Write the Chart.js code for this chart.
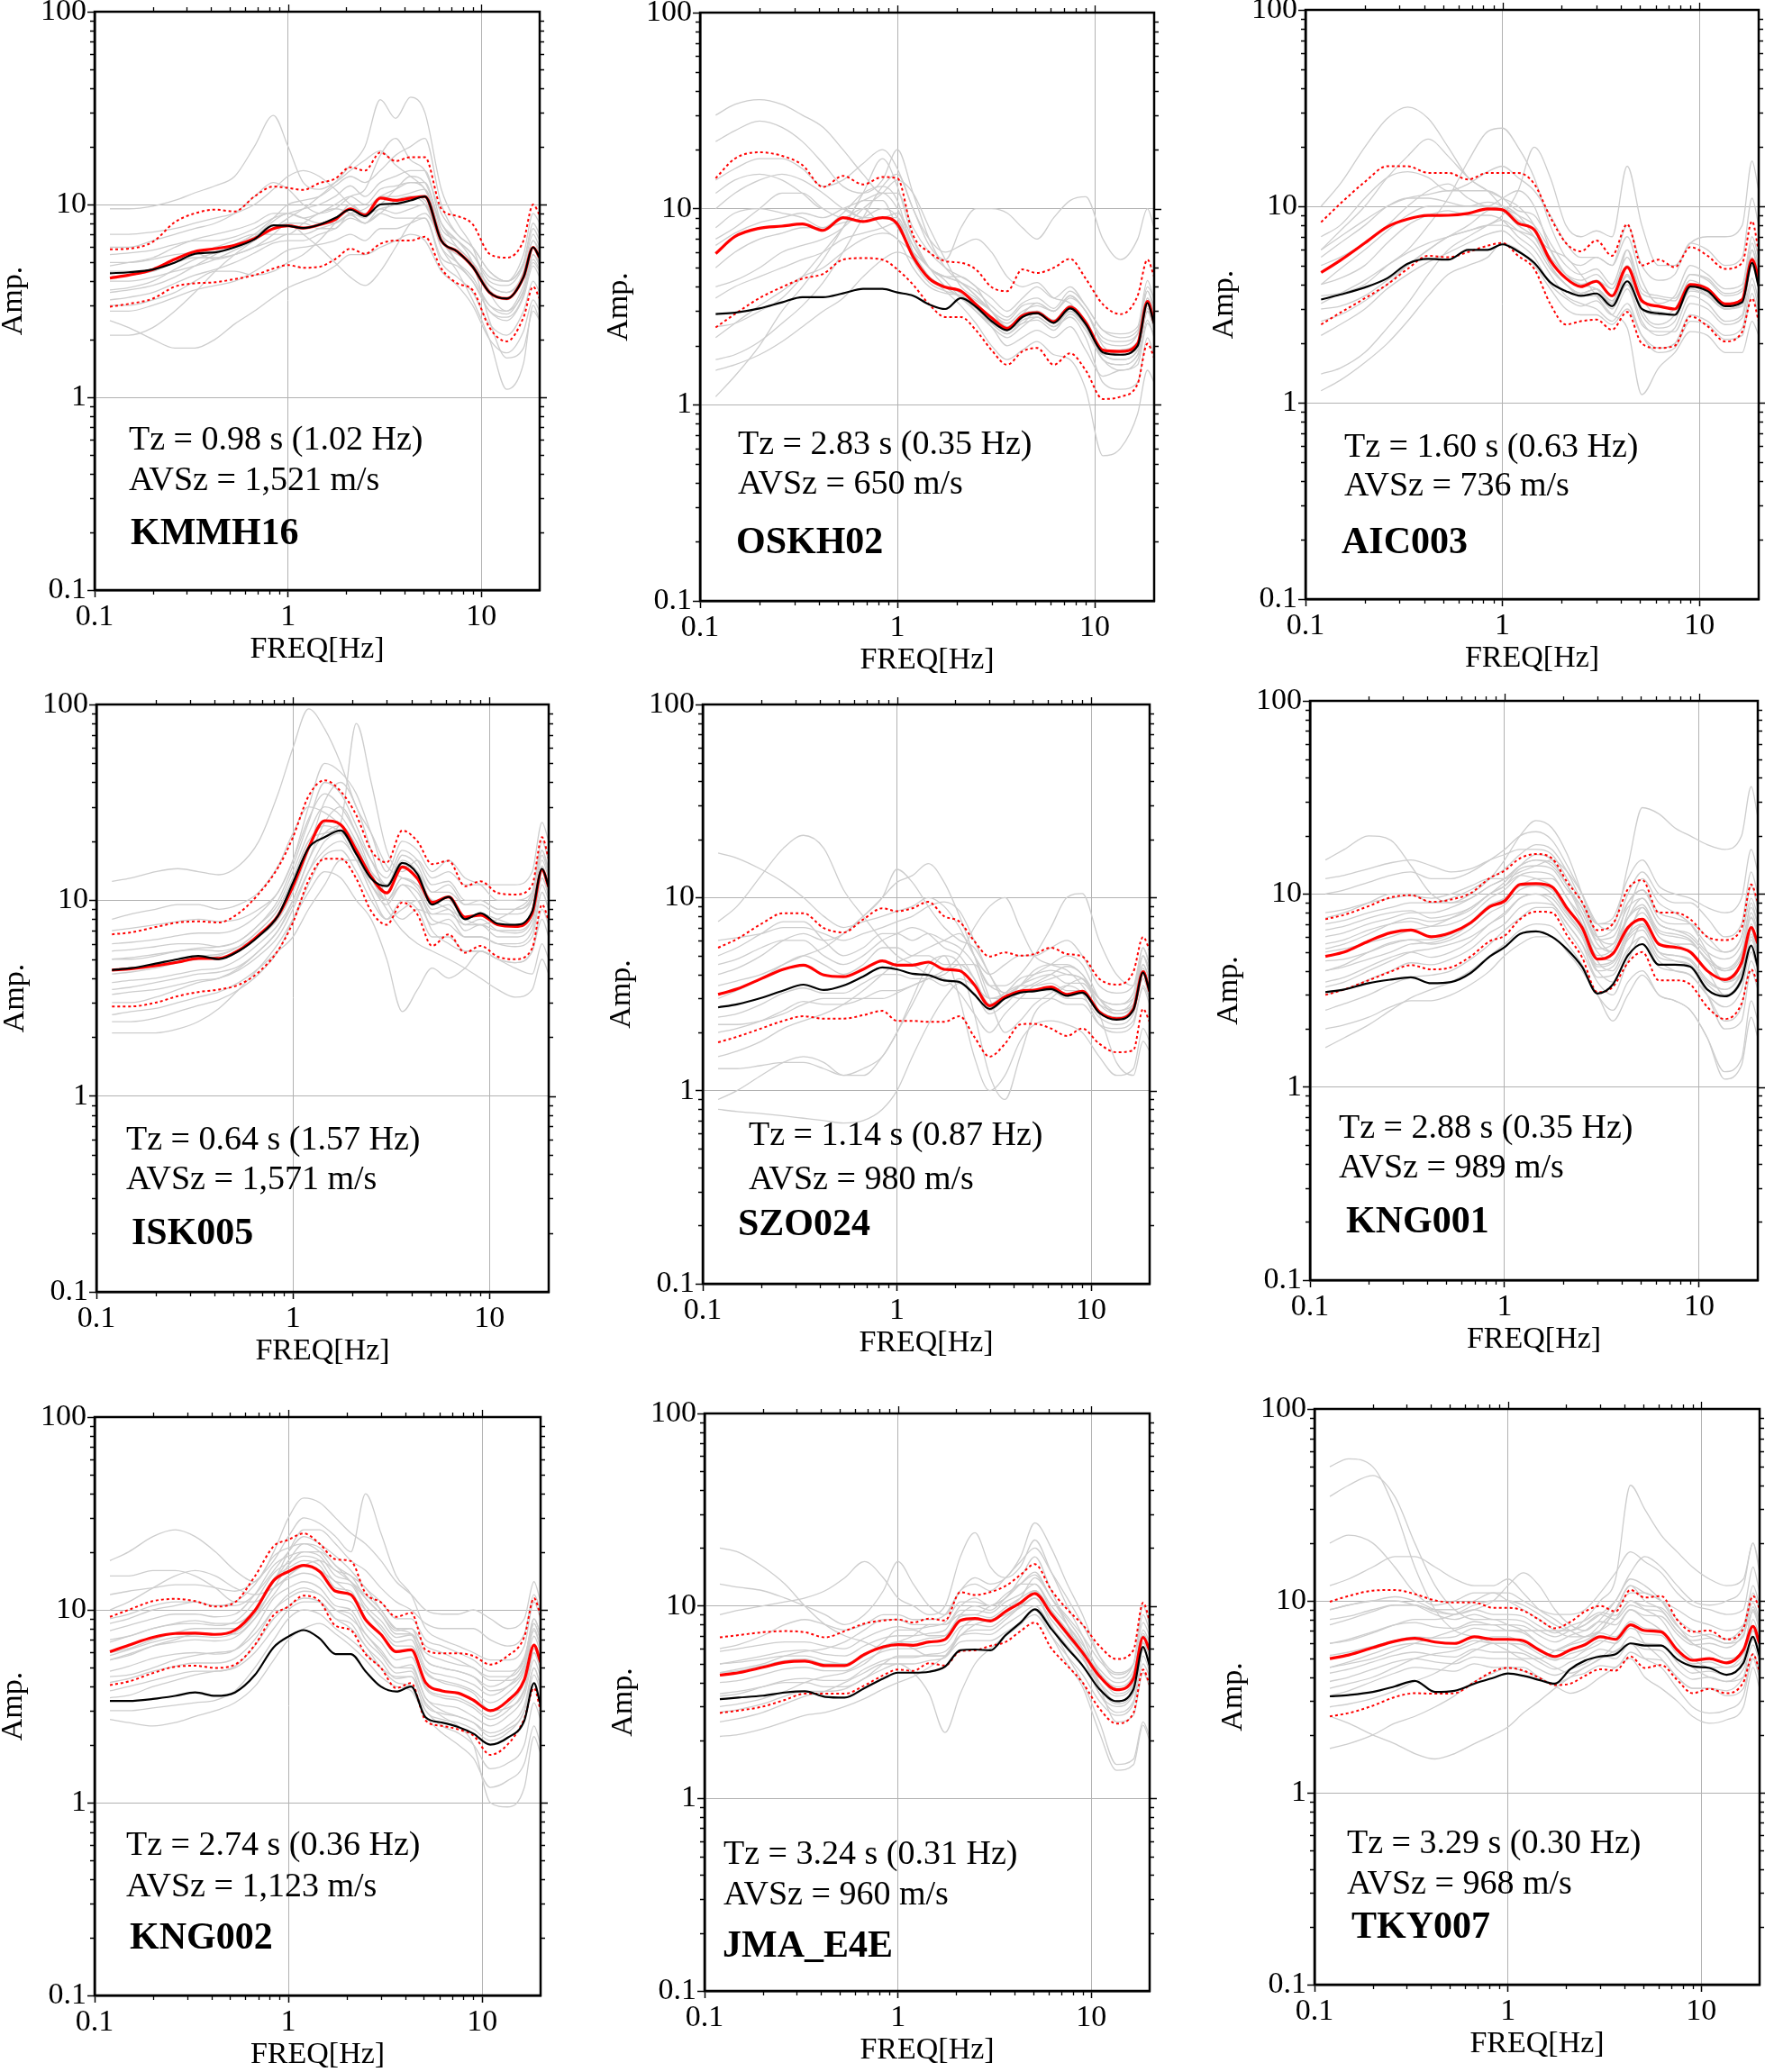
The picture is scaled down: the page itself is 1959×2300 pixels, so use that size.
<!DOCTYPE html>
<html lang="en">
<head>
  <meta charset="UTF-8">
  <title>H/V spectra - 9 stations</title>
  <script src="https://cdn.jsdelivr.net/npm/chart.js@4.4.0/dist/chart.umd.min.js"></script>
  <style>
    html, body { margin: 0; padding: 0; background: #fff; }
    body { width: 1959px; height: 2300px; position: relative; overflow: hidden; }
    canvas.panel { position: absolute; }
  </style>
</head>
<body>
<script>
// shared frequency grid [Hz]
const freq = [0.12, 0.15, 0.2, 0.26, 0.33, 0.42, 0.53, 0.67, 0.84, 1.0, 1.2, 1.45, 1.75, 2.1, 2.5, 3.0, 3.6, 4.3, 5.1, 6.2, 7.5, 9.0, 11, 13.5, 16.5, 18.5, 20];
const xTickValues = [0.1, 1, 10];
const yTickValues = [0.1, 1, 10, 100];

// KMMH16
const kmmh16Mean  = [4.15,4.3,4.6,5.2,5.7,5.9,6.15,6.65,7.5,7.75,7.55,7.85,8.35,9.5,8.8,10.8,10.5,10.8,11.0,6.5,5.7,4.76,3.5,3.25,4.2,6.0,5.3];
const kmmh16Black = [4.4,4.45,4.6,5.0,5.55,5.65,6.0,6.6,7.8,7.75,7.55,7.85,8.5,9.4,8.7,10.0,10.1,10.5,11.0,6.5,5.7,4.76,3.5,3.25,4.2,6.0,5.3];
const kmmh16Plus  = [5.85,5.9,6.4,8.1,9.0,9.4,9.2,11.0,12.4,12.2,11.9,12.9,13.6,15.6,15.0,18.6,16.8,17.6,17.6,9.5,8.7,7.9,5.55,5.3,6.5,10,8.8];
const kmmh16Minus = [2.95,3.05,3.25,3.75,3.9,3.95,4.1,4.3,4.65,4.85,4.7,4.75,5.2,5.9,5.55,6.25,6.5,6.5,6.8,4.65,3.9,3.6,2.3,1.95,2.6,3.75,3.25];
const kmmh16Gray = [
  [9.5,9.5,9.8,10.5,11.5,12.5,14,20,29,20,13,12,13,15,17,19,16,14,12,8,6,5,3.6,3.2,4.5,6.5,5.5],
  [2.1,2.1,2.3,2.8,3.5,4.5,5.5,6.5,7.5,8.5,9.5,11,13,16,20,35,28,36,30,12,8,6,3.5,2.8,3.5,5,4.5],
  [3.5,3.6,3.8,4.2,4.8,5.5,6.2,7,8.5,10,10.5,11,12.5,14,13,15,18,20,22,10,7,6,4.5,4,5.5,9,8],
  [5,5,5.2,5.5,5.6,5.2,5.5,6,6.5,7,7,7.5,8,9,9.5,11,12,13,12,7,5,4,2.8,2.6,3.4,5.5,4.8],
  [2.5,2.3,2,1.8,1.8,2,2.4,2.8,3.3,3.7,4,4.3,4.8,5.5,5.5,6,6.5,7,6.5,4.5,3.8,3,2,1.7,2.2,3.2,2.8],
  [7,7,7.2,7.5,8,8.5,9,10,12,14,15,14,12,10,9,9.5,10,11,10,6.5,5.5,5,3.8,3.5,4.2,6,5],
  [4,4,4.2,4.5,4.8,5.2,5.8,6.5,7.5,8,7,6,5,4.2,3.8,4.5,6,8,9,6.5,5,4,3,2.8,3.8,5.5,5],
  [3,3,3.2,3.5,4,4.5,4.5,4.3,4.5,5,5.5,6.5,8,10,9,10,12,14,13,8,6.5,5,2.5,1.6,1.8,2.8,2.5],
  [6,6,6.5,7,7.5,8,9,11,13,12,10,9,9.5,11,12,18,22,17,15,9,7,6,4.5,4,5,8,7],
  [4.5,4.5,4.6,5,5.5,6,6.5,7,7,7,8,9,9.5,9,8,9,10.5,11,10.5,6,4.5,3.2,2,1.1,1.5,3,2.5],
  [3.6,3.7,4.0,4.6,5.2,5.6,6.0,6.8,8.2,9.0,8.5,8.0,8.0,8.8,8.0,9.5,9.0,9.5,10,6,5,4.2,3,2.7,3.6,5.2,4.6],
  [4.8,5,5.3,6,6.6,7,7.4,8,9,9,8.5,9,10,11,10,12,12.5,13,13,7.5,6.5,5.5,4,3.8,4.8,7,6],
  [3.2,3.3,3.5,3.9,4.3,4.6,5,5.6,6.3,6.5,6.5,7,7.5,8.5,8,9,8.5,8.5,8.5,5.3,4.8,4,2.8,2.5,3.3,4.8,4.2],
  [5.5,5.6,5.8,6.2,6.5,6.5,6.8,7.5,8.5,9,9.5,10,11,12.5,11,13,14,15,15,8,6.5,5.5,4.2,4,5,7.5,6.5],
  [4.2,4.3,4.5,5,5.3,5.3,5.5,6,7,8,8,7.5,7.5,9,8.5,11,11,11.5,12,7,6,5,3.8,3.5,4.4,6.5,5.8],
  [2.8,2.8,3,3.3,3.6,3.8,4,4.5,5.2,5.8,6,6.2,6.5,7,6.5,7.5,7.5,8,8.5,5,4.2,3.5,2.4,2.1,2.8,4,3.5]
];

// OSKH02
const oskh02Mean  = [5.9,7.2,7.95,8.15,8.35,7.75,9.0,8.6,9.0,8.35,5.7,4.4,3.98,3.8,3.25,2.78,2.45,2.85,2.95,2.65,3.15,2.63,1.9,1.87,2.05,3.37,2.63];
const oskh02Black = [2.9,2.95,3.1,3.33,3.54,3.54,3.7,3.9,3.9,3.74,3.6,3.25,3.08,3.5,3.16,2.67,2.4,2.8,2.93,2.62,3.1,2.58,1.85,1.8,2.0,3.3,2.58];
const oskh02Plus  = [14.3,18.0,19.4,18.6,16.7,12.9,14.7,13.3,14.5,14.3,7.35,6.0,5.4,5.3,4.9,3.98,3.8,4.9,4.7,5.0,5.55,4.4,3.25,2.9,3.6,5.5,4.5];
const oskh02Minus = [2.48,2.9,3.5,3.98,4.4,4.65,5.5,5.6,5.5,4.9,4.1,3.25,2.8,2.8,2.4,1.9,1.6,1.87,1.95,1.6,1.83,1.5,1.07,1.1,1.28,2.05,1.74];
const oskh02Gray = [
  [30,34,36,34,30,26,20,15,12,12,8,6,5,4.5,4,3,2.6,3,3.2,3,3.5,3,2,1.8,2,3.5,3],
  [22,25,28,26,22,17,13,12,14,20,12,7,5,4.2,3.6,3,2.4,2.8,3,2.6,3,2.5,1.7,1.6,1.8,3,2.5],
  [1.1,1.4,2,3,4,5.5,8,12,18,13,7,5,4.5,4.5,4,3.5,3,3.5,4,3.5,4,3.2,2.4,2.2,2.4,4,3.5],
  [1.7,1.8,2.1,2.6,3.2,4.2,6,9,13,15,10,6.5,5.5,8,10,10,9.5,8,7,9,11,11.5,7,5.5,7,10,8],
  [10,12,14,15,14,12,10,9,9,9.5,7,5,4,3.5,3,2.5,2.2,2.5,2.8,2.5,2.8,2.2,1.3,1.2,1.3,2.2,1.8],
  [4,4.3,5,6,6.5,7,8,10,12,14,12,8,5.5,4,3.5,3,2.5,2.6,3,2.7,3.2,2.5,1.8,1.7,1.9,3.2,2.8],
  [2.5,2.6,3,3.5,4.5,6,8,11,11,8,6,4.5,4,3.5,3,2.5,2,2.2,2.4,2.2,2.5,1.9,1.4,1.5,1.6,2.6,2.3],
  [7,8,10,12,12,10,9,10,8,7,6,5,4.3,3.5,3.2,2.8,2.4,2.9,3.3,3,3.6,3,2.1,2,2.3,3.8,3.2],
  [1.5,1.6,1.8,2.1,2.5,3,3.5,4.5,5.5,6,5.5,4.5,3.8,3.2,2.6,2,1.7,1.9,2.1,1.8,1.7,1.2,0.55,0.6,0.9,1.5,1.3],
  [14,16,18,18,16,13,14,17,20,16,10,7,6,6.5,7,6,4.5,4,4.2,3.5,3.3,2.5,1.7,1.5,1.7,2.7,2.2],
  [5,6,7,7.5,8,8,9.5,12,13,11,6,4.5,4,3.8,3.4,3,2.5,2.9,3,2.7,3.2,2.7,1.9,1.8,2,3.2,2.6],
  [8,9.5,10,9.5,9,8,8.5,9,10,9,5.5,4.2,3.8,3.6,3.1,2.6,2.3,2.7,2.8,2.5,3,2.5,1.8,1.7,1.9,3.1,2.5],
  [3.5,4,4.5,5,5.5,6,7,7.5,8,8.5,6.5,5,4.5,4.2,3.6,3,2.7,3.2,3.3,3,3.6,3,2.2,2.1,2.3,3.8,3],
  [12,14,15,14,12,10,10,9,9,9,6,4.5,4,3.7,3,2.6,2.3,2.6,2.7,2.4,2.9,2.4,1.7,1.6,1.8,3,2.4],
  [2.2,2.6,3.2,3.8,4.5,5,6,7,7.5,7,5,4,3.7,3.6,3.2,2.8,2.5,2.8,2.9,2.6,3,2.5,1.8,1.9,2.1,3.5,2.8],
  [6.5,7.5,8.5,9,9.5,9,10,11,12,10,6.5,5,4.5,4.2,3.8,3.2,2.8,3.3,3.5,3.1,3.8,3.2,2.4,2.3,2.5,4.3,3.4]
];

// AIC003
const aic003Mean  = [4.6,5.3,6.5,7.86,8.6,8.98,9.0,9.2,9.7,9.6,8.2,7.6,5.3,4.3,3.9,4.15,3.5,4.9,3.3,3.1,3.0,4.0,3.8,3.18,3.35,5.35,4.3];
const aic003Black = [3.35,3.55,3.86,4.3,5.1,5.4,5.35,6.0,6.0,6.4,5.9,5.15,4.1,3.7,3.5,3.6,3.1,4.15,3.0,2.85,2.8,3.9,3.7,3.1,3.25,5.15,3.9];
const aic003Plus  = [8.3,10.3,13.3,16.0,16.0,14.8,14.8,13.7,14.8,14.8,14.8,13.0,8.8,6.5,5.9,6.7,5.6,8.1,5.0,5.35,4.9,6.2,5.6,4.8,5.15,8.4,5.9];
const aic003Minus = [2.5,2.87,3.4,4.0,4.8,5.6,5.5,5.85,6.3,6.5,5.6,4.8,3.18,2.5,2.6,2.65,2.35,2.9,2.0,1.9,1.95,2.75,2.45,2.05,2.3,3.4,2.6];
const aic003Gray = [
  [10,13,20,28,32,28,20,14,12,10,9,8,6,4.5,4,3.8,3.2,6,3,2.5,2.8,4,3.5,3,3.2,6,4.5],
  [1.15,1.3,1.6,2,2.6,3.5,4.5,5,5.5,6.5,6,5,3.8,3,2.8,2.8,2.5,3,2.2,1.9,2,2.8,2.6,2.2,2.4,4,3],
  [6,7.5,10,14,18,22,18,14,12,11,10,8,5,4,3.5,3.5,3,4,2.6,2.2,2.4,3.5,3.2,2.6,2.8,5,3.8],
  [3.5,3.6,4,5,6,8,11,17,24,25,20,14,8,5.5,5,5.5,5,7,4.2,3.2,3.5,5,4.5,3.8,4,7,5.5],
  [1.4,1.5,1.8,2.4,3.2,4.5,6,7,8,9,12,20,14,8,7,7.5,7,16,8,5,5,6.5,7,7,8,17,12],
  [5,5.5,6.5,8,10,12,13,11,10,11,12,10,6,4.5,4,4.2,3.8,5,3.4,2.8,3,4.2,3.8,3.2,3.4,6,4.5],
  [4,4.3,5,6.5,8,9,9.5,9,9,8.5,7,6,4.5,3.5,3.2,3,2.6,3.2,2.2,1.8,1.9,2.6,2.5,2.1,2.2,3.6,2.8],
  [3,3.1,3.5,4.2,5,6,7,7.5,8,8,7.5,7,6,5.5,4.5,3.5,2.8,2.4,1.1,1.5,1.8,2.3,2.2,1.8,1.8,2.6,2.2],
  [7,8,11,14,15,14,12,13,15,16,14,12,9,6.5,5.5,5.5,5,8,5,4.2,4.5,6.5,6,5,5.5,11,8],
  [2.6,2.8,3.3,4,5,6,7,8,9.5,10,9,7,5,4,3.6,3.8,3.3,4.5,2.8,2.4,2.6,4,3.6,3,3.2,5.5,4],
  [4,4.8,6,7.5,9,10,10,10,10.5,10,8.5,7.5,5,4,3.6,3.8,3.2,4.5,3,2.8,2.8,3.7,3.5,3,3.1,5,4],
  [5.5,6.5,8,10,11,11,10.5,10,10,9.5,8,7,5.5,4.5,4.2,4.5,3.8,5.5,3.6,3.4,3.3,4.5,4.2,3.5,3.7,6,4.8],
  [3.2,3.6,4.2,5,5.8,6.5,7,7.5,8,8.5,7.5,6.5,4.8,4,3.6,3.8,3.3,4.4,3,2.9,2.8,3.8,3.5,3,3.2,5,4],
  [6,7,8.5,10,11,11.5,12,12,12,11,9.5,9,6.5,5,4.5,4.8,4,6,3.8,3.5,3.4,4.5,4.3,3.6,3.8,6.5,5],
  [2.2,2.5,3,3.8,4.5,5.2,5.8,6.5,7.2,7.5,6.5,5.5,4,3.4,3.1,3.3,2.8,3.8,2.5,2.3,2.3,3.2,3,2.5,2.7,4.3,3.3]
];

// ISK005
const isk005Mean  = [4.4,4.47,4.63,4.83,5.05,5.05,5.55,6.65,8.35,11.8,18.5,25.5,24.3,18.0,13.2,10.9,14.8,12.9,9.75,10.4,8.2,8.4,7.5,7.35,8.6,14.3,11.7];
const isk005Black = [4.4,4.5,4.75,5.0,5.2,5.0,5.5,6.55,8.35,12.3,18.5,21.0,22.7,17.2,12.9,11.8,15.5,13.6,9.5,10.4,8.0,8.6,7.6,7.5,8.8,14.5,11.7];
const isk005Plus  = [6.7,6.85,7.3,7.7,7.8,7.7,8.6,10.8,14.7,21.0,34,41,36,27.2,18.0,15.6,22.7,20,15.3,15.9,11.8,12.5,10.9,10.7,12.0,21.0,16.3];
const isk005Minus = [2.87,2.87,3.0,3.24,3.4,3.5,3.7,4.3,5.55,7.7,12.6,16.3,16.3,12.9,8.8,7.5,9.75,8.45,5.85,6.7,5.4,5.85,5.15,5.0,5.7,9.5,7.9];
const isk005Gray = [
  [12.5,13,14,14.5,14,13.5,15,20,35,60,95,75,50,30,22,15,13,12,10,9,8,7.5,8,9,11,18,14],
  [2.1,2.1,2.1,2.2,2.4,2.8,3.5,4.5,6,8,11,14,13,10,8,5,2.7,3.5,4.5,4,4.5,5.5,5,4.5,4.2,6,5],
  [8,8.5,9,9.5,9.5,9,9.5,11,15,22,30,28,24,18,14,12,15,14,11,11,9.5,10,9,9,10,16,13],
  [3,3,3.2,3.5,3.8,4,4.5,5.5,7,10,16,25,30,22,14,10,12,11,8,7.5,6.5,6.5,6,5.8,6.5,11,9],
  [5.5,5.6,5.8,6,6,5.8,6.2,7.5,10,15,25,40,35,24,16,12,16,14,10,10,8,8.5,8,7.5,8.5,15,12],
  [4.2,4.3,4.5,4.8,5,5.2,5.8,7,9,13,20,22,25,80,40,18,14,16,13,14,12,12,12,12,14,25,20],
  [2.6,2.7,2.8,3,3.2,3.4,3.8,4.5,5.5,6.5,9,12,16,16,12,9,7,6,5.5,5,4.5,4,3.5,3.2,3.5,5,4.2],
  [7,7.2,7.5,7.8,8,7.8,8,9,11,16,30,50,45,35,22,14,20,18,14,16,13,12,10,10,11,20,16],
  [3.5,3.6,3.8,4,4.2,4.3,4.6,5.5,7,9.5,14,18,20,16,11,8,9,10,7,6,5.5,5.5,5,4.8,5.5,8,6.5],
  [5,5,5.2,5.5,5.6,5.5,5.8,6.5,8,11,18,32,40,30,18,10,8,9,8.5,8.5,7.5,7.5,7,7,8,13,10.5],
  [3.8,3.9,4,4.2,4.4,4.5,5,6,7.5,10,16,22,24,19,13,10,13,11.5,8.5,9,7,7.5,6.5,6.5,7.5,12,10],
  [5,5.1,5.3,5.5,5.7,5.8,6.2,7.5,9.5,14,22,30,27,20,14,12,17,15,11,12,9.5,9.5,8.5,8.5,10,17,13.5],
  [4.4,4.5,4.7,5,5.2,5.3,5.8,7,9,13,20,24,22,16,12,10,13,12,9,9.5,7.5,8,7,6.8,8,13,11],
  [3.3,3.4,3.5,3.7,3.9,4,4.4,5.2,6.5,9,14,20,22,17,12,9.5,12,10,7.5,8,6.5,6.5,6,6,7,11,9],
  [6,6.1,6.3,6.6,6.8,6.8,7.2,8.5,11,16,26,35,30,22,16,13,18,16,12,12.5,10,10,9,9,10.5,18,14.5],
  [2.4,2.4,2.5,2.7,2.9,3.1,3.5,4.2,5.5,8,12,17,18,14,10,8,10,9,6.5,6.5,5.5,5.5,5,4.8,5.5,9,7.5]
];

// SZO024
const szo024Mean  = [3.15,3.36,3.8,4.25,4.47,3.97,3.89,4.25,4.7,4.47,4.47,4.63,4.25,4.18,3.54,2.75,3.06,3.27,3.32,3.44,3.15,3.27,2.56,2.36,2.65,4.13,3.27];
const szo024Black = [2.7,2.8,3.02,3.3,3.54,3.32,3.5,3.9,4.35,4.25,4.03,3.97,3.72,3.65,3.15,2.65,3.0,3.22,3.27,3.36,3.1,3.22,2.53,2.33,2.62,4.09,3.27];
const szo024Plus  = [5.5,6.1,7.3,8.3,8.3,6.95,6.6,7.7,8.8,8.5,8.8,9.5,8.0,7.5,5.95,4.95,5.2,5.0,5.1,5.5,5.1,4.95,3.8,3.54,4.13,6.25,5.35];
const szo024Minus = [1.78,1.9,2.1,2.3,2.43,2.36,2.36,2.46,2.59,2.3,2.3,2.27,2.27,2.43,1.9,1.5,1.75,2.2,2.22,2.1,1.92,2.1,1.75,1.58,1.62,2.65,2.27];
const szo024Gray = [
  [17,16,14,12,10,8,7,7.5,8,8.5,9,10,9,7,5,4,4.5,5,5,5.5,6,5,3.5,3.2,3.5,5.5,4.5],
  [7.5,9,13,18,21,18,11,8,6,5,4.5,4,3.8,3.2,2.5,2,2.5,3,3.5,3.8,4,3.8,3,2.8,3,4.5,3.8],
  [0.8,0.78,0.76,0.74,0.72,0.7,0.68,0.7,0.8,1,1.5,2.2,3,3.6,3.2,2.5,2.8,3.3,3.6,4,4.4,4,2.8,2.5,2.7,4,3.4],
  [0.9,1,1.2,1.4,1.5,1.4,1.2,1.2,1.5,2,2.8,4,5,4.5,2.5,1.2,0.9,1.5,2.5,3,3.5,3.8,2.5,1.4,1.2,1.8,1.6],
  [4,4.3,5,6,6.5,6,6.5,8,10,12,13,15,12,8,5,3,2,2.3,2.8,3.2,3.5,3.2,2.2,2,2.2,3.5,3],
  [1.5,1.6,1.8,2.1,2.3,2.5,2.8,3.3,4,4.6,5,5.5,6,6.5,5,3.5,3.5,4,5,7,10,10.5,6,4,3.5,5,4.3],
  [3.5,3.7,4,4.5,5,5.5,6.5,8,10,14,12,9,7,6,5.5,4,3,3.5,4.2,4.5,4.5,4,3,2.6,2.8,4.5,3.7],
  [2.2,2.2,2.3,2.5,2.8,3,3,3,3,3.2,3.5,3.8,4.2,5,7,9,10,7,5,4.5,4.2,3.5,2.6,2.4,2.6,4,3.4],
  [6,6.2,6.5,7,7,6.5,6,6.5,7,7.5,8,9,9.5,8.5,6,4,3.2,3.5,4,4.5,5,4.5,3,2.5,2.8,5,4],
  [1.3,1.3,1.35,1.4,1.4,1.3,1.2,1.3,1.5,2,3,4.5,5,3,1.5,1,1.2,1.8,2.2,2.3,2.2,2,1.5,1.2,1.3,2.1,1.8],
  [3,3.3,3.8,4.5,5,4.5,4,4.5,5.5,5.5,5,5,4.5,4.5,3.8,2.8,3.2,3.5,3.5,3.6,3.3,3.3,2.6,2.4,2.7,4.3,3.4],
  [2.4,2.5,2.8,3.2,3.4,3.2,3.2,3.6,4,4,3.8,3.8,3.5,3.8,3.5,3,3,3.2,3.3,3.3,3,3,2.4,2.2,2.5,3.8,3],
  [4.5,4.8,5.5,6,6,5,4.5,5,6,6.5,7,6.5,5.5,5,3.8,2.6,3,3.5,3.8,4,3.6,3.6,2.8,2.6,3,5,4],
  [2,2.1,2.3,2.6,2.9,2.8,2.8,3,3.3,3.3,3.5,3.8,4,4.5,4.5,3.5,3.2,3,3,3,2.8,2.8,2.2,2.1,2.3,3.4,2.8],
  [5,5.5,6.5,7.5,7.5,6,5,5.5,6.5,6.5,6,6.5,6,5.5,4.5,3,3.2,3.8,4,4.2,4,3.8,3,2.8,3.2,5.5,4.5]
];

// KNG001
const kng001Mean  = [4.75,5.0,5.7,6.3,6.5,6.0,6.3,7.1,8.6,9.2,11.2,11.3,10.9,8.4,6.7,4.6,4.9,6.7,7.4,5.5,5.3,5.0,4.0,3.6,4.4,6.7,5.55];
const kng001Black = [3.1,3.2,3.45,3.6,3.7,3.45,3.5,3.9,4.75,5.3,6.2,6.4,6.0,5.15,4.2,3.05,3.4,4.8,5.5,4.3,4.3,4.2,3.2,2.95,3.6,5.4,4.2];
const kng001Plus  = [7.4,7.8,8.65,9.6,9.85,9.1,9.35,10.1,12.1,13.2,15.3,16.1,15.3,11.5,9.1,6.5,7.0,10.6,11.8,8.0,8.0,7.4,6.0,5.77,6.67,11.2,9.1];
const kng001Minus = [3.0,3.2,3.57,3.96,4.28,4.07,4.17,4.75,5.7,6.07,7.4,8.1,8.0,6.07,4.7,3.1,3.3,4.4,5.0,3.57,3.57,3.4,2.6,2.25,2.7,4.07,3.4];
const kng001Gray = [
  [15,17,20,19,14,10,9,10,12,15,20,24,22,16,10,6,5,8,12,9,8,7,5,3.5,4.5,9,7],
  [1.6,1.8,2.1,2.5,2.9,3.2,3.5,4,4.8,5.5,6.5,7,6.8,5.5,4.3,3,2.5,3.5,4,3,2.8,2.5,1.8,1.2,1.4,2.8,2.2],
  [10,10.5,11.5,12.5,13,12,12,13,15,17,20,21,19,14,10,7,6.5,10,13,10,9,9,7.5,6,7,13,10],
  [2.5,2.7,3,3.4,3.7,3.8,4,4.6,5.5,6.5,7.5,8.5,8.5,6.5,5,3.5,3,4.5,6,4.5,4,3.8,3,2.2,2.6,4.5,3.7],
  [6,6.3,7,7.5,8,8,8.5,9.5,11,12,14,15,14,11,8,5.5,5,7.5,9.5,7,6.5,6,4.8,4,4.7,8,6.5],
  [4,4.2,4.6,5,5.5,5.6,6,7,8.5,9.5,11,12,12,9.5,7,5,4.5,6.5,8,6,5.5,5,4,3,3.5,6.5,5],
  [8,8.3,9,9.5,9.8,9.5,10,11,12,12,13,14,15,13,10,7,7,14,28,26,22,20,18,17,20,36,25],
  [3.3,3.5,4,4.5,5,5.2,5.5,6,7,8,9.5,10,9,7,5.5,4,3.5,5,7,5,4.5,4.2,3,2,2.2,4,3.2],
  [5,5.2,5.6,6,6.5,6.8,7.5,8.5,10,11.5,14,16,15,11,7.5,4.5,4,6,8.5,6,5.5,5.5,4.5,3.5,4,7,5.5],
  [12,12.5,13.5,14.5,15,14,13,13.5,15,16,17,17,16,12,9,7,7.5,12,15,11,10,9.5,8.5,8,9.5,17,13],
  [2,2.1,2.3,2.6,2.8,2.8,3,3.4,4,4.8,5.5,6,6,5,4,3,2.2,3,3.8,3,2.8,2.5,1.8,1.1,1.3,2.3,1.8],
  [7,7.3,8,8.5,9,9,9.5,10.5,12,13.5,16,18,17,13,9,6,5.5,9,10.5,7.5,7,7,6,5,6,11,8.5],
  [4,4.3,5,5.6,5.8,5.5,5.8,6.6,8,8.8,10.5,11,10.5,8,6.3,4.3,4.5,6.2,7,5,4.8,4.6,3.6,3.2,4,6.2,5],
  [5.5,5.8,6.5,7,7.2,6.8,7,7.8,9.5,10.5,12.5,13,12.5,9.5,7.5,5.2,5.5,7.5,8.5,6.3,6,5.7,4.6,4.1,5,7.6,6.3],
  [3.5,3.7,4.2,4.7,5,4.7,5,5.7,7,7.8,9.5,10,9.5,7.5,6,4,4.2,5.8,6.5,4.7,4.5,4.3,3.4,3,3.7,5.8,4.7],
  [6.5,6.8,7.5,8,8.2,7.5,7.8,8.5,10,11,13.5,14,13.5,10.5,8.5,5.8,6,8.5,9.5,7,6.5,6.2,5,4.6,5.5,8.5,7],
  [4.5,4.6,5,5.5,5.8,5.8,6.2,7.2,8.8,9.5,11,11,10,7.8,6.2,4.2,4.4,6,6.8,5,4.8,4.5,3.5,3.2,3.9,6,4.9],
  [3,3.2,3.6,4,4.4,4.3,4.6,5.2,6.3,7,8.5,9,8.8,7,5.5,3.7,3.8,5.2,6,4.2,4,3.8,3,2.6,3.2,5,4],
  [5.2,5.5,6.2,7,7.5,7.2,7.5,8.3,10,11,12.5,12,11,8.5,6.8,4.8,5.2,7.5,8.8,6.5,6.2,5.8,4.5,4,4.9,7.5,6.2],
  [7.5,8,9,10,10,9,9,9.5,11,12,14,15,14.5,11,8.5,6,6.5,9,10.5,8,7.5,7,5.5,5,6,9.5,7.8]
];

// KNG002
const kng002Mean  = [6.07,6.56,7.2,7.54,7.57,7.46,7.85,9.9,14.2,15.8,17.0,15.8,12.5,12.0,8.9,7.46,6.07,6.2,4.2,3.8,3.7,3.4,3.0,3.37,4.35,6.56,5.35];
const kng002Black = [3.37,3.37,3.45,3.58,3.73,3.58,3.73,4.58,6.4,7.27,7.85,7.1,5.9,5.9,4.8,4.0,3.77,4.0,2.77,2.6,2.47,2.28,2.0,2.17,2.67,4.17,3.2];
const kng002Plus  = [9.2,10.0,11.1,11.4,11.1,10.4,10.95,14.9,21.4,23.1,24.9,22.0,18.3,17.9,12.2,10.95,9.2,9.65,6.2,5.95,5.95,5.77,5.2,5.77,7.27,11.5,9.4];
const kng002Minus = [4.07,4.25,4.7,5.07,5.13,5.0,5.2,6.56,9.4,10.4,11.85,11.1,8.27,7.85,5.9,5.0,3.93,4.17,2.67,2.5,2.4,2.23,1.77,2.0,2.74,3.93,3.0];
const kng002Gray = [
  [18,20,24,26,24,20,16,14,20,30,38,36,30,25,22,18,14,12,10,9.5,9.5,10,9,8,9,14,11],
  [2.7,2.6,2.5,2.6,2.8,3,3.3,4,5.5,7,8,8.5,7.5,6.5,5.5,4.5,4,3.8,2.8,2.3,2,1.7,1.2,1.3,1.6,2.5,2],
  [10,11,13,15,16,15,13,12,13,15,17,18,16,14,12,10,8,8,6.5,6,5.5,5,4.5,4.5,5.5,9,7.5],
  [4.5,4.6,5,5.5,5.8,6,6.2,7.5,10,12,13,12,10,9,7.5,6,5,5,3.5,3,2.8,2.6,2.2,2.4,3,5,4],
  [7,7.3,8,8.5,8.8,8.5,8.5,10,14,18,22,21,17,15,13,10,8,7.5,5.5,5,4.8,4.5,3.8,4,5,8,6.5],
  [3.5,3.6,4,4.3,4.6,4.8,5,6,8,10,11,11,9,8,6.5,5,4.2,4,3,2.5,2.3,2,1.5,1.6,2,3.3,2.7],
  [12,12.5,13,13.5,13.5,13,12.5,14,18,24,30,28,24,20,40,25,15,12,8,7,6.5,6,5.5,5.5,6.5,11,9],
  [5.5,5.8,6.5,7,7.5,7.5,7.5,9,12,15,17,16,14,12,10,8,6.5,6.5,4.8,4.2,4,3.7,3,3.1,3.8,6,5],
  [8.5,9,10,10.5,11,10.5,10.5,12,16,20,24,22,19,16,13,11,9,9,7,6.5,6,5.5,4.8,4.8,5.5,9,7.5],
  [3,3,3.1,3.2,3.3,3.4,3.8,5,7,9,10,9.5,8,7,6,5,4.5,4.5,3.3,2.8,2.5,2,1,0.95,1.2,2.2,1.8],
  [6,6.3,7,7.6,8,8,8,9.5,13,17,20,20,17,14,11.5,9.5,7.5,7.5,6,5.5,5.2,5,4.3,4.3,5.2,8.5,7],
  [15,15,16,16,15,13,11,11,14,20,26,26,22,18,16,13,11,10,8.5,8,8,8,7,6.5,7.5,12,10],
  [5.5,5.9,6.5,6.8,7,6.9,7.2,9,13,14.5,15.5,14.5,11.5,11,8.2,6.8,5.5,5.7,3.9,3.5,3.4,3.1,2.7,3,3.9,6,4.9],
  [6.8,7.3,8,8.4,8.5,8.3,8.7,11,15.5,17.5,19,18,14,13.5,10,8.3,6.8,7,4.7,4.3,4.1,3.8,3.3,3.7,4.8,7.3,6],
  [4.8,5.1,5.6,5.9,6,5.9,6.2,8,11.5,13,14,13,10.5,10,7.5,6.2,5,5.2,3.5,3.2,3.1,2.8,2.5,2.8,3.6,5.5,4.5],
  [7.8,8.3,9,9.5,9.5,9.2,9.5,12,17,19,20,19,15,14,10.5,8.8,7.2,7.4,5,4.6,4.4,4.1,3.6,4,5.2,7.8,6.4],
  [4.2,4.4,4.8,5.1,5.3,5.3,5.6,7,10,11.5,12.5,12,10,9.5,7,5.8,4.7,4.8,3.2,2.9,2.8,2.6,2.3,2.5,3.2,5,4.1],
  [9,9.5,10.5,11,11,10.5,11,13.5,19,21,22,20,16,15,11.5,9.5,7.8,8,5.5,5,4.8,4.5,4,4.4,5.7,8.5,7],
  [5.8,6.2,6.8,7.2,7.3,7.2,7.6,9.5,14.5,16.5,18,17,13,12.5,9,7.5,6,6.2,4,3.6,3.5,3.2,2.8,3.2,4.2,6.3,5.2],
  [3.8,4,4.3,4.6,4.8,4.8,5.1,6.5,9,10.5,11.5,11,9,8.5,6.5,5.4,4.4,4.5,3,2.7,2.6,2.4,2.1,2.3,3,4.6,3.8]
];

// JMA_E4E
const jmaE4eMean  = [4.37,4.5,4.8,5.1,5.17,4.9,4.9,5.6,6.13,6.3,6.25,6.5,6.7,8.4,8.6,8.35,9.35,10.4,11.6,9.1,7.2,5.73,4.32,3.67,4.2,6.87,5.9];
const jmaE4eBlack = [3.28,3.34,3.42,3.55,3.6,3.37,3.34,3.74,4.2,4.5,4.5,4.55,4.84,5.88,5.94,5.88,7.05,8.2,9.6,7.6,6.03,4.9,3.7,3.2,3.7,6.13,4.9];
const jmaE4ePlus  = [6.87,7.05,7.3,7.4,7.3,6.87,7.4,8.1,8.4,8.5,8.2,8.6,8.4,11.8,11.4,11.8,12.7,14.5,16.5,12.1,9.6,8.0,6.2,5.3,5.9,10.4,8.4];
const jmaE4eMinus = [2.78,2.86,3.0,3.25,3.5,3.5,3.5,3.86,4.37,4.67,4.6,5.04,4.9,5.82,5.88,6.2,6.5,7.4,8.2,6.03,4.9,4.0,2.93,2.45,2.78,4.67,3.9];
const jmaE4eGray = [
  [20,19,16,13,10,8,7,6.5,6,6.5,7,8,8,9,9,10,11,14,18,12,8,5.5,3.5,3,3.5,6,5],
  [2.1,2.15,2.3,2.5,2.7,2.8,3,3.3,3.7,4,4.3,4.8,5.5,7,8,8.5,9,10,11,8,5.5,4,2.5,1.5,1.6,2.5,2.1],
  [9,9.5,10,10.5,11,12,14,17,14,11,10,9,10,18,24,16,14,16,22,15,10,7,4.5,3.5,4,7,6],
  [3.5,3.6,3.8,4,4,3.8,3.8,4.2,5,5.5,5.5,5.5,5.5,7,7.5,7.5,8.5,10,12,9,7,5.5,3.5,2.8,3.2,5.5,4.6],
  [6,6.3,7,8,8.5,8,7.5,8,9,9,8.5,8.5,9,12,13,12,14,17,20,15,11,8,5.5,4.5,5,9,7.5],
  [2.5,2.6,2.8,3.1,3.4,3.6,4,4.5,5,5,4.5,3.5,2.2,3.5,5,6,7,8,9.5,7,5,3.8,2.2,1.4,1.5,2.4,2],
  [4.5,4.7,5,5.5,5.8,6,6.5,7.5,8.5,8.5,8,8,8,10,11,10,11,13,15,11,8.5,6.5,4,3.2,3.6,6.5,5.5],
  [13,12.5,12,11,10,9,8,9,12,17,13,10,9,12,14,13,14,18,27,20,13,9,5.5,4.2,5,10,8],
  [5,5.1,5.3,5.5,5.5,5.2,5,5.5,6.5,7.5,7.5,7,7,9,10,9.5,11,13,13,9.5,7,5.5,3.8,3.2,3.8,7,6],
  [3,3.1,3.3,3.6,4,4.3,4.5,5,6,6.5,6,5.5,5.5,7.5,8.5,8.5,9.5,11,14,11,8,6,3.8,2.5,2.7,4.5,3.8],
  [4,4.1,4.4,4.7,4.8,4.6,4.6,5.2,5.8,6,6,6.2,6.3,7.8,8,7.8,8.8,9.8,11,8.5,6.7,5.3,4,3.4,3.9,6.4,5.5],
  [5,5.2,5.5,5.8,5.9,5.6,5.5,6.2,6.8,7,7,7.2,7.5,9.5,9.5,9.2,10.5,11.5,13,10,8,6.3,4.7,4,4.6,7.5,6.5],
  [3.4,3.5,3.8,4.1,4.2,4.1,4.1,4.7,5.2,5.4,5.4,5.6,5.8,7,7.2,7.1,8,9,10,7.8,6.2,4.9,3.7,3.1,3.6,5.9,5],
  [5.8,6,6.3,6.5,6.5,6.2,6,6.8,7.5,7.8,7.6,7.8,8.2,10.5,10.5,10,11.5,13,14.5,11,8.8,7,5.2,4.4,5,8.2,7],
  [4.5,4.6,4.9,5.2,5.3,5,5,5.6,6.2,6.5,6.5,6.8,7,8.8,9,8.7,9.8,11,12,9.5,7.5,6,4.5,3.8,4.4,7.2,6.2],
  [2.8,2.9,3.1,3.4,3.6,3.6,3.7,4.2,4.7,5,5,5.2,5.4,6.5,6.6,6.6,7.3,8.2,9,7,5.5,4.4,3.2,2.7,3.1,5,4.3]
];

// TKY007
const tky007Mean  = [5.0,5.22,5.7,6.16,6.38,6.1,6.0,6.5,6.3,6.3,6.2,5.55,5.13,5.55,5.9,6.5,6.3,7.5,7.0,6.9,5.55,4.9,5.0,4.75,5.55,7.37,6.0];
const tky007Black = [3.18,3.23,3.35,3.58,3.83,3.35,3.4,3.7,3.97,4.18,4.07,3.87,3.7,4.4,4.88,5.13,5.27,6.0,5.85,5.85,4.96,4.56,4.47,4.12,4.75,6.5,5.13];
const tky007Plus  = [9.9,10.6,11.3,11.4,10.85,10.05,9.8,9.8,9.2,9.2,8.9,7.97,7.2,7.76,8.8,9.4,8.8,11.4,10.4,10.6,7.97,6.9,7.0,6.3,7.2,10.6,9.1];
const tky007Minus = [2.5,2.6,2.84,3.15,3.3,3.28,3.3,3.77,4.3,4.47,4.33,3.97,3.64,3.7,4.07,4.4,4.33,5.13,4.47,4.63,3.87,3.3,3.48,3.3,3.77,5.27,4.3];
const tky007Gray = [
  [50,55,50,30,15,9,7,6.5,6,5.5,5,5,5.5,6,6.5,7,8,10,9,8,6,5,4.5,4.5,5,8,6.5],
  [35,40,45,35,20,12,9,8,8,7.5,7,6,5.5,5.5,6,7,9,12,10,9,7,6,5.5,5,5.5,9,7.5],
  [1.7,1.8,2,2.3,2.5,2.8,3.2,3.8,4.2,4.5,4.3,4,3.6,3.3,3.5,4,4.5,5,4,3.5,3,2.5,2.3,2.4,2.8,4.5,3.5],
  [2.5,2.3,2,1.8,1.6,1.5,1.6,1.8,2,2.2,2.6,3,3.5,4,4.5,5,6,7.5,6,5,4,3.5,3.5,3.2,3.5,5,4],
  [12,13,15,17,17,15,13,12,12,13,11,9,8,7,6.5,7,9,12,11,10,8,7,6.5,6,6.5,11,9],
  [6,6.2,6.8,7.5,8,8,8.5,9.5,10,10,9.5,8.5,7.5,7,8,10,13,40,30,22,18,15,13,12,13,20,15],
  [3.5,3.7,4,4.5,5,5.3,5.5,6,6.5,6.5,6,5.5,5,5,5.5,6,7,9,8,7,5.5,4.5,4,3.8,4,7,5.5],
  [9,9.5,10,10.5,10,9,8.5,9,10,12,14,12,9,7.5,7,8,10,14,17,15,12,10,9.5,10,12,20,14],
  [4.5,4.7,5,5.5,6,6.5,7,7.5,7.5,7,7,7,7,7,7.5,8.5,10,13,12,10,7.5,6,5.5,5,5.5,9,7],
  [20,22,20,15,11,9.5,10,11,11,10,9,8,7,6.5,6.5,7.5,9,11,11,10,9,8,7.5,7,7.5,12,9.5],
  [2.8,2.9,3.1,3.4,3.8,4.2,4.8,5.5,6,6,5.5,5,4.5,4.2,4.5,5,5.5,6,5,4.5,3.5,2.8,2.6,2.7,3.2,5,4],
  [8,8.3,9,9.5,9.5,9,9,10,11,11,10,9,8.5,8.5,9,11,14,18,16,14,11,9.5,9,8.5,9,15,11],
  [4.5,4.8,5.3,5.8,6,5.8,5.7,6.2,6,6,5.9,5.3,4.9,5.3,5.6,6.2,6,7.2,6.7,6.6,5.3,4.7,4.8,4.5,5.3,7,5.7],
  [6,6.3,6.9,7.5,7.7,7.3,7.2,7.8,7.5,7.5,7.4,6.6,6.1,6.6,7,7.8,7.5,9,8.4,8.3,6.7,5.9,6,5.7,6.7,8.8,7.2],
  [3.8,4,4.4,4.8,5,4.8,4.7,5.1,5,5,4.9,4.4,4.1,4.4,4.7,5.2,5,6,5.6,5.5,4.4,3.9,4,3.8,4.4,5.9,4.8],
  [7.5,8,8.8,9.5,9.5,8.8,8.5,9,8.5,8.5,8.3,7.4,6.8,7.4,7.9,8.7,8.4,10,9.4,9.2,7.4,6.5,6.7,6.3,7.4,9.8,8],
  [5.2,5.4,5.8,6.2,6.5,6.4,6.5,7.2,7,7,6.8,6,5.5,5.9,6.2,6.8,6.5,7.8,7.2,7,5.6,4.9,5,4.8,5.6,7.4,6],
  [3.2,3.4,3.8,4.2,4.5,4.4,4.3,4.7,4.5,4.5,4.5,4,3.7,4,4.2,4.6,4.5,5.4,5,4.9,4,3.5,3.5,3.4,4,5.3,4.3],
  [9,9.5,10,10,9.5,8.5,8,8.5,8,8,7.8,7,6.5,7,7.5,8.5,8,9.5,9,8.8,7,6.2,6.4,6,7,9.3,7.6],
  [4.2,4.4,4.8,5.2,5.4,5.2,5.1,5.6,5.4,5.4,5.3,4.8,4.4,4.8,5.1,5.6,5.4,6.5,6,5.9,4.8,4.2,4.3,4.1,4.8,6.3,5.2]
];

// panel layout: plot box [left, top, width, height] in page px, and text offsets
const panels = [
  {box: [105, 13, 494, 642],  mean: kmmh16Mean, black: kmmh16Black, plus: kmmh16Plus, minus: kmmh16Minus, gray: kmmh16Gray,
   tz: 'Tz = 0.98 s (1.02 Hz)', avs: 'AVSz = 1,521 m/s', name: 'KMMH16', txt: [38, 476, 521, 40, 580]},
  {box: [777, 14, 504, 653],  mean: oskh02Mean, black: oskh02Black, plus: oskh02Plus, minus: oskh02Minus, gray: oskh02Gray,
   tz: 'Tz = 2.83 s (0.35 Hz)', avs: 'AVSz = 650 m/s', name: 'OSKH02', txt: [42, 480, 524, 40, 589]},
  {box: [1449, 11, 503, 654], mean: aic003Mean, black: aic003Black, plus: aic003Plus, minus: aic003Minus, gray: aic003Gray,
   tz: 'Tz = 1.60 s (0.63 Hz)', avs: 'AVSz = 736 m/s', name: 'AIC003', txt: [43, 486, 529, 40, 592]},
  {box: [107, 782, 502, 652], mean: isk005Mean, black: isk005Black, plus: isk005Plus, minus: isk005Minus, gray: isk005Gray,
   tz: 'Tz = 0.64 s (1.57 Hz)', avs: 'AVSz = 1,571 m/s', name: 'ISK005', txt: [33, 484, 528, 39, 588]},
  {box: [780, 782, 496, 643], mean: szo024Mean, black: szo024Black, plus: szo024Plus, minus: szo024Minus, gray: szo024Gray,
   tz: 'Tz = 1.14 s (0.87 Hz)', avs: 'AVSz = 980 m/s', name: 'SZO024', txt: [51, 479, 528, 39, 578]},
  {box: [1454, 778, 497, 643], mean: kng001Mean, black: kng001Black, plus: kng001Plus, minus: kng001Minus, gray: kng001Gray,
   tz: 'Tz = 2.88 s (0.35 Hz)', avs: 'AVSz = 989 m/s', name: 'KNG001', txt: [32, 475, 519, 40, 579]},
  {box: [105, 1573, 495, 642], mean: kng002Mean, black: kng002Black, plus: kng002Plus, minus: kng002Minus, gray: kng002Gray,
   tz: 'Tz = 2.74 s (0.36 Hz)', avs: 'AVSz = 1,123 m/s', name: 'KNG002', txt: [35, 476, 522, 39, 579]},
  {box: [782, 1569, 494, 641], mean: jmaE4eMean, black: jmaE4eBlack, plus: jmaE4ePlus, minus: jmaE4eMinus, gray: jmaE4eGray,
   tz: 'Tz = 3.24 s (0.31 Hz)', avs: 'AVSz = 960 m/s', name: 'JMA_E4E', txt: [21, 490, 535, 20, 592]},
  {box: [1459, 1564, 494, 639], mean: tky007Mean, black: tky007Black, plus: tky007Plus, minus: tky007Minus, gray: tky007Gray,
   tz: 'Tz = 3.29 s (0.30 Hz)', avs: 'AVSz = 968 m/s', name: 'TKY007', txt: [36, 483, 528, 41, 576]}
];

const serif = '"Liberation Serif", "Times New Roman", serif';
Chart.defaults.font.family = serif;
Chart.defaults.color = '#000';

const AXIS_W = 110, AXIS_H = 90, PAD_T = 24, PAD_R = 14;

// minor tick positions on a log axis
function minorTicks(lo, hi) {
  const out = [];
  for (let d = lo; d < hi; d *= 10) {
    for (let m = 2; m <= 9; m++) {
      const v = +(m * d).toPrecision(3);
      if (v < hi) out.push(v);
    }
  }
  return out;
}
const xMinor = minorTicks(0.1, 20);
const yMinor = minorTicks(0.1, 100);

// frame on four sides, minor ticks, and station text
const framePlugin = {
  id: 'frame',
  afterDraw(chart, args, opts) {
    const {ctx, chartArea: a, scales: {x, y}} = chart;
    ctx.save();
    ctx.strokeStyle = '#000';
    ctx.lineWidth = 1.3;
    ctx.beginPath();
    xMinor.forEach(v => {
      const px = Math.round(x.getPixelForValue(v)) + 0.5;
      ctx.moveTo(px, a.bottom); ctx.lineTo(px, a.bottom + 5);
      ctx.moveTo(px, a.top); ctx.lineTo(px, a.top - 5);
    });
    [1, 10].forEach(v => {
      const px = Math.round(x.getPixelForValue(v)) + 0.5;
      ctx.moveTo(px, a.top); ctx.lineTo(px, a.top - 8);
    });
    yMinor.forEach(v => {
      const py = Math.round(y.getPixelForValue(v)) + 0.5;
      ctx.moveTo(a.left, py); ctx.lineTo(a.left - 5, py);
      ctx.moveTo(a.right, py); ctx.lineTo(a.right + 5, py);
    });
    [1, 10].forEach(v => {
      const py = Math.round(y.getPixelForValue(v)) + 0.5;
      ctx.moveTo(a.right, py); ctx.lineTo(a.right + 8, py);
    });
    ctx.stroke();
    ctx.lineWidth = 2.5;
    ctx.strokeRect(a.left, a.top, a.right - a.left, a.bottom - a.top);

    const [tx, ty, ay, nx, ny] = opts.txt;
    ctx.fillStyle = '#000';
    ctx.textAlign = 'left';
    ctx.textBaseline = 'middle';
    ctx.font = '38px ' + serif;
    ctx.fillText(opts.tz, a.left + tx, a.top + ty);
    ctx.fillText(opts.avs, a.left + tx, a.top + ay);
    ctx.font = 'bold 42px ' + serif;
    ctx.fillText(opts.name, a.left + nx, a.top + ny);
    ctx.restore();
  }
};

function makePanel(p) {
  const [L, T, W, H] = p.box;
  const canvas = document.createElement('canvas');
  canvas.className = 'panel';
  canvas.width = W + AXIS_W + PAD_R;
  canvas.height = H + PAD_T + AXIS_H;
  canvas.style.left = (L - AXIS_W) + 'px';
  canvas.style.top = (T - PAD_T) + 'px';
  document.body.appendChild(canvas);

  const pts = arr => arr.map((v, i) => ({x: freq[i], y: v}));
  const datasets = [
    {data: pts(p.black), borderColor: '#000000', borderWidth: 2.2, order: 0},
    {data: pts(p.mean), borderColor: '#ff0000', borderWidth: 3.2, order: 1},
    {data: pts(p.plus), borderColor: '#ff0000', borderWidth: 2, borderDash: [3, 3], order: 2},
    {data: pts(p.minus), borderColor: '#ff0000', borderWidth: 2, borderDash: [3, 3], order: 2}
  ];
  p.gray.forEach(g => datasets.push({data: pts(g), borderColor: '#cdcdcd', borderWidth: 1.3, order: 3}));

  new Chart(canvas, {
    type: 'line',
    data: {datasets},
    options: {
      responsive: false,
      animation: false,
      devicePixelRatio: 1,
      layout: {padding: {top: PAD_T, right: PAD_R, bottom: 0, left: 0}},
      elements: {
        point: {radius: 0},
        line: {cubicInterpolationMode: 'monotone', fill: false}
      },
      plugins: {
        legend: {display: false},
        tooltip: {enabled: false},
        frame: {tz: p.tz, avs: p.avs, name: p.name, txt: p.txt}
      },
      scales: {
        x: {
          type: 'logarithmic', min: 0.1, max: 20,
          afterBuildTicks: s => { s.ticks = xTickValues.map(v => ({value: v})); },
          afterFit: s => { s.height = AXIS_H; },
          ticks: {callback: v => String(v), font: {size: 34}, color: '#000', padding: 2, maxRotation: 0, autoSkip: false},
          grid: {color: '#b2b2b2', lineWidth: 1, tickLength: 8, tickColor: '#000', tickWidth: 1.5},
          border: {color: '#000', width: 2.5},
          title: {display: true, text: 'FREQ[Hz]', font: {size: 34}, color: '#000', padding: {top: 0, bottom: 4}}
        },
        y: {
          type: 'logarithmic', min: 0.1, max: 100,
          afterBuildTicks: s => { s.ticks = yTickValues.map(v => ({value: v})); },
          afterFit: s => { s.width = AXIS_W; },
          ticks: {callback: v => String(v), font: {size: 34}, color: '#000', padding: 1, autoSkip: false},
          grid: {color: '#b2b2b2', lineWidth: 1, tickLength: 8, tickColor: '#000', tickWidth: 1.5},
          border: {color: '#000', width: 2.5},
          title: {display: true, text: 'Amp.', font: {size: 34}, color: '#000', padding: 0}
        }
      }
    },
    plugins: [framePlugin]
  });
}

panels.forEach(makePanel);
</script>
</body>
</html>
